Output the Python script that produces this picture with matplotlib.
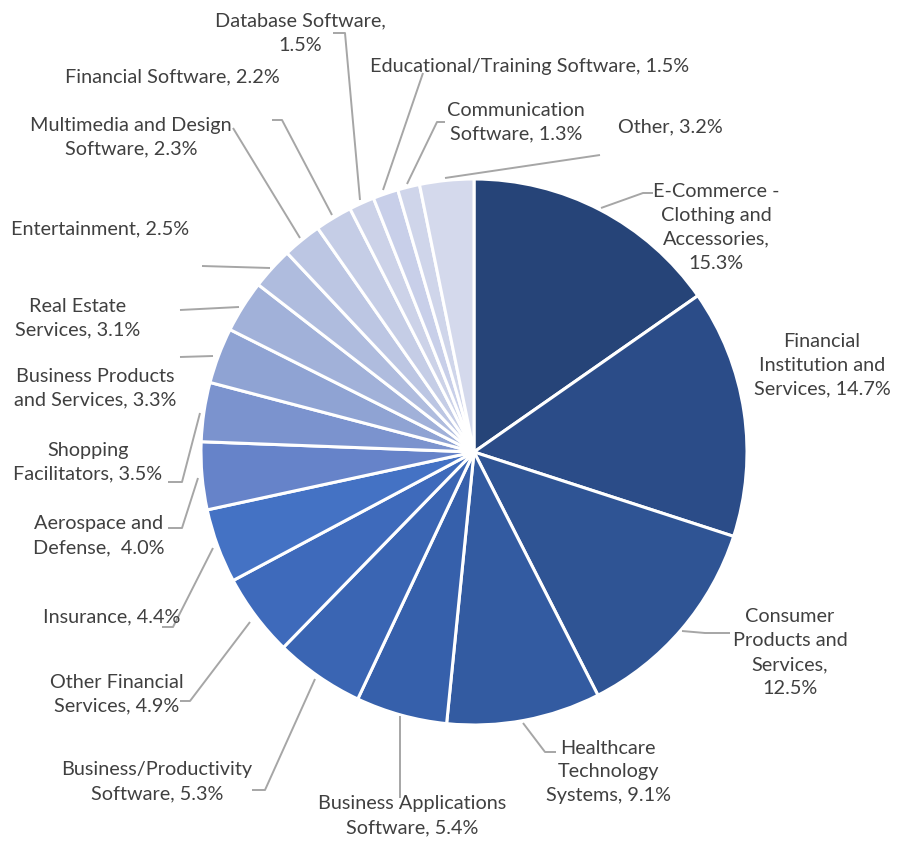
import matplotlib.pyplot as plt

# Data (clockwise from 12 o'clock).
categories = [
    "E-Commerce -\nClothing and\nAccessories,\n15.3%",
    "Financial\nInstitution and\nServices, 14.7%",
    "Consumer\nProducts and\nServices,\n12.5%",
    "Healthcare\nTechnology\nSystems, 9.1%",
    "Business Applications\nSoftware, 5.4%",
    "Business/Productivity\nSoftware, 5.3%",
    "Other Financial\nServices, 4.9%",
    "Insurance, 4.4%",
    "Aerospace and\nDefense,  4.0%",
    "Shopping\nFacilitators, 3.5%",
    "Business Products\nand Services, 3.3%",
    "Real Estate\nServices, 3.1%",
    "Entertainment, 2.5%",
    "Multimedia and Design\nSoftware, 2.3%",
    "Financial Software, 2.2%",
    "Database Software,\n1.5%",
    "Educational/Training Software, 1.5%",
    "Communication\nSoftware, 1.3%",
    "Other, 3.2%",
]
shares = [15.3, 14.7, 12.5, 9.1, 5.4, 5.3, 4.9, 4.4, 4.0, 3.5,
          3.3, 3.1, 2.5, 2.3, 2.2, 1.5, 1.5, 1.3, 3.2]

colors = ["#264478", "#2b4c88", "#2f5494", "#335ba1", "#3660ab", "#3a65b3",
          "#3e6abb", "#4472c4", "#6683c9", "#7b93ce", "#8fa3d3", "#a1b1d9",
          "#afbcde", "#bcc6e3", "#c5cde6", "#ccd2e8", "#c8cfe9", "#cfd5ea",
          "#d4d9ec"]

# Label placement in image pixels (x, y from top) and leader line points.
label_xy = [(716, 227), (822, 365), (790, 653), (608, 772), (412, 816),
            (157, 782), (117, 694), (112, 617), (99, 536), (88, 462),
            (95, 388), (78, 318), (100, 229), (131, 137), (172, 77),
            (300, 33), (530, 66), (516, 122), (670, 127)]
leaders = [
    [(601, 208), (643, 193), (653, 193)],
    None,
    [(682, 631), (705, 633), (730, 633)],
    [(523, 723), (545, 752), (556, 752)],
    [(400, 716), (400, 798)],
    [(315, 679), (265, 790), (252, 790)],
    [(250, 622), (190, 701), (180, 701)],
    [(213, 548), (173, 627), (162, 627)],
    [(198, 478), (182, 528), (168, 528)],
    [(200, 413), (182, 482), (168, 482)],
    [(213, 356), (180, 357)],
    [(239, 307), (180, 310)],
    [(270, 268), (202, 266)],
    [(300, 238), (233, 128)],
    [(332, 215), (282, 120), (272, 120)],
    [(360, 200), (345, 33), (333, 33)],
    [(383, 190), (423, 73)],
    [(407, 184), (437, 122), (445, 122)],
    [(445, 178), (600, 155)],
]

W, H = 905, 850
fig = plt.figure(figsize=(W / 100, H / 100), dpi=100)
ax = fig.add_axes([0, 0, 1, 1])

ax.pie(shares, colors=colors, startangle=90, counterclock=False,
       center=(474, H - 452), radius=273, frame=True,
       wedgeprops=dict(edgecolor="white", linewidth=2.2))
ax.set_xlim(0, W)
ax.set_ylim(0, H)
ax.set_aspect("equal")
ax.axis("off")

for text, (x, y), pts in zip(categories, label_xy, leaders):
    ax.text(x, H - y, text, ha="center", va="center", fontsize=14.3,
            family="Lato", color="#404040", linespacing=1.5)
    if pts:
        ax.plot([p[0] for p in pts], [H - p[1] for p in pts],
                color="#a6a6a6", lw=1.4, solid_capstyle="butt")

fig.savefig("out.png", dpi=100)
